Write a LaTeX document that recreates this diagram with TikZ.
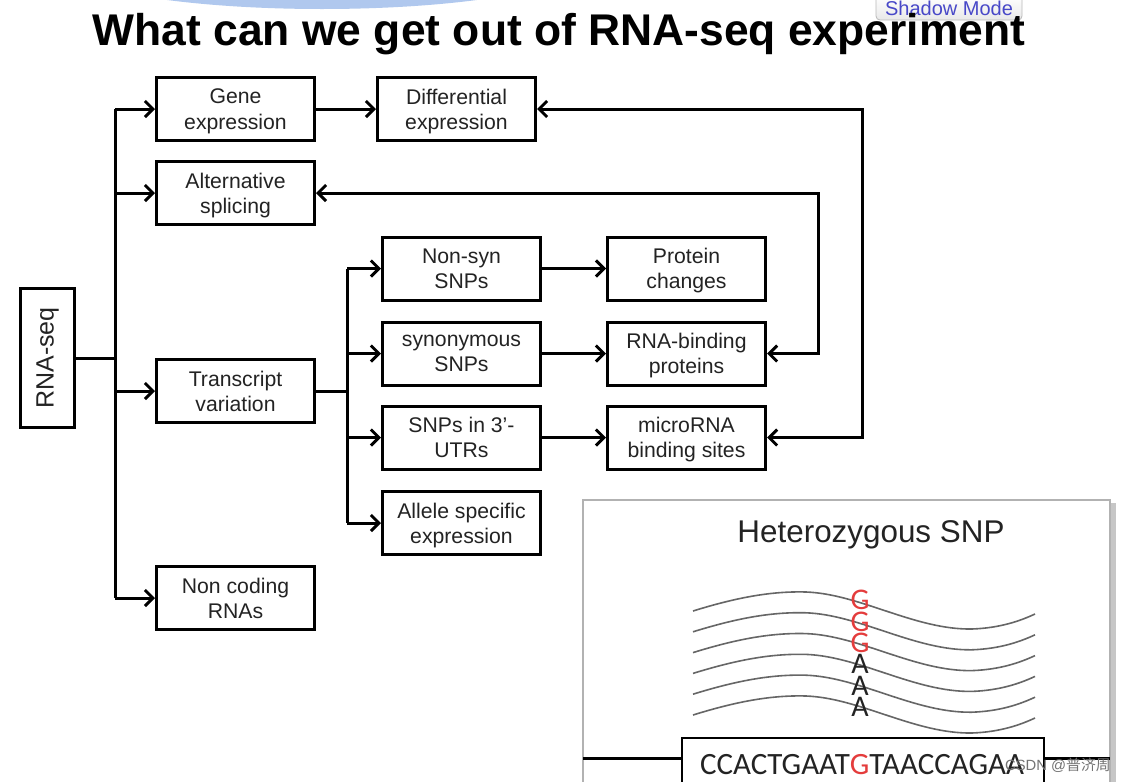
\documentclass[tikz,border=0pt]{standalone}
\usepackage{fontspec}
\setmainfont{Liberation Sans}
\newfontfamily\calib{Carlito}
\newfontfamily\cjk{Noto Sans CJK SC}
\usetikzlibrary{arrows.meta}
\definecolor{snpred}{RGB}{228,60,60}
\definecolor{btnblue}{RGB}{72,72,200}
\definecolor{topblue}{RGB}{176,200,238}
\definecolor{inkgray}{RGB}{35,35,35}
\begin{document}
\begin{tikzpicture}[x=0.5pt,y=-0.5pt,
  box/.style={draw=black, line width=1.5pt, fill=white, minimum width=79pt,
    minimum height=31.5pt, inner sep=0pt, align=center, text=inkgray,
    text depth=0pt, font=\fontsize{10.6}{12.6}\selectfont},
  link/.style={line width=1.5pt},
  arr/.style={link, -{Straight Barb[length=4pt,width=8pt]}},
  barr/.style={link, {Straight Barb[length=4pt,width=8pt]}-{Straight Barb[length=4pt,width=8pt]}},
  wave/.style={draw=black!60, line width=0.8pt},
  base/.style={font=\calib\fontsize{15}{15}\selectfont, inner sep=0pt}
]
\clip (0,0) rectangle (1126,782);
\fill[white] (0,0) rectangle (1126,782);

% slide decoration and toolbar button
\fill[topblue] (322,-40) ellipse [x radius=268, y radius=49];
\node[draw=gray!55, rounded corners=2pt, top color=white, bottom color=gray!18,
  minimum width=73pt, minimum height=12pt, inner sep=0pt, text=btnblue,
  font=\fontsize{10}{10}\selectfont] (btn) at (949,8) {Shadow Mode};

% title
\node[font=\bfseries\fontsize{22.2}{24}\selectfont, inner sep=0pt, anchor=base] (title) at (559,45)
  {What can we get out of RNA-seq experiment};

% boxes
\node[box, minimum width=27pt, minimum height=69.5pt] (rna) at (47.5,358) {};
\node[rotate=90, font=\fontsize{12.5}{13}\selectfont, text=inkgray] (rnalbl) at (rna.center) {RNA-seq};
\node[box] (gene) at (235.5,109) {Gene\\expression};
\node[box] (diff) at (456.5,109) {Differential\\expression};
\node[box] (alt)  at (235.5,193) {Alternative\\splicing};
\node[box] (tv)   at (235.5,391) {Transcript\\variation};
\node[box] (nc)   at (235.5,598) {Non coding\\RNAs};
\node[box] (nonsyn) at (461.5,268.5) {Non-syn\\SNPs};
\node[box] (syn)    at (461.5,353.5) {synonymous\\SNPs};
\node[box] (utr)    at (461.5,437.5) {SNPs in 3’-\\UTRs};
\node[box] (ase)    at (461.5,523) {Allele specific\\expression};
\node[box] (prot)   at (686.5,268.5) {Protein\\changes};
\node[box] (rbp)    at (686.5,353.5) {RNA-binding\\proteins};
\node[box] (mir)    at (686.5,437.5) {microRNA\\binding sites};

% first fan-out from RNA-seq
\coordinate (j1) at (115,358);
\draw[link] (rna.east) -- (j1);
\draw[link] (j1 |- gene.west) -- (j1 |- nc.west);
\draw[arr] (j1 |- gene.west) -- (gene.west);
\draw[arr] (j1 |- alt.west) -- (alt.west);
\draw[arr] (j1 |- tv.west) -- (tv.west);
\draw[arr] (j1 |- nc.west) -- (nc.west);

% second fan-out from transcript variation
\coordinate (j2) at (347,391);
\draw[link] (tv.east) -- (j2);
\draw[link] (j2 |- nonsyn.west) -- (j2 |- ase.west);
\draw[arr] (j2 |- nonsyn.west) -- (nonsyn.west);
\draw[arr] (j2 |- syn.west) -- (syn.west);
\draw[arr] (j2 |- utr.west) -- (utr.west);
\draw[arr] (j2 |- ase.west) -- (ase.west);

% consequences
\draw[arr] (gene.east) -- (diff.west);
\draw[arr] (nonsyn.east) -- (prot.west);
\draw[arr] (syn.east) -- (rbp.west);
\draw[arr] (utr.east) -- (mir.west);

% feedback loops
\coordinate (f1) at (818,0);
\coordinate (f2) at (862,0);
\draw[barr] (alt.east) -| (f1 |- rbp.east) -- (rbp.east);
\draw[barr] (diff.east) -| (f2 |- mir.east) -- (mir.east);

% heterozygous SNP panel
\fill[gray!45] (587,503) rectangle (1116,790);
\draw[gray!60, line width=1pt, fill=white] (583,500) rectangle (1110,790);
\node[font=\fontsize{15.7}{17}\selectfont, text=inkgray, inner sep=0pt, anchor=base] (snpt) at (871,542) {Heterozygous SNP};

\foreach \i in {0,...,5}{
  \begin{scope}[shift={(0,\i*20.8)}]
    \draw[wave] (693,611) .. controls (735,598) and (770,591) .. (806,592)
      .. controls (860,594) and (915,630) .. (972,629)
      .. controls (1000,628) and (1020,621) .. (1035,614);
  \end{scope}
}
\node[base, text=snpred] (g1) at (860,600) {G};
\node[base, text=snpred] (g2) at (860,622) {G};
\node[base, text=snpred] (g3) at (860,643) {G};
\node[base, text=inkgray] (a1) at (860,664) {A};
\node[base, text=inkgray] (a2) at (860,686) {A};
\node[base, text=inkgray] (a3) at (860,707) {A};

\node[draw=black, line width=1.2pt, fill=white, minimum width=181pt, minimum height=36pt,
  inner sep=0pt] (seqbox) at (863,774) {};
\draw[link] (583,758) -- (seqbox.west |- 0,758);
\draw[link] (seqbox.east |- 0,758) -- (1110,758);
\node[font=\calib\fontsize{15.5}{16}\selectfont, text=inkgray, inner sep=0pt] (seq) at (862,765)
  {CCACTGAAT\textcolor{snpred}{G}TAACCAGAA};

\node[anchor=east, font=\fontsize{7.4}{8}\selectfont, text=black!55, inner sep=0pt] (wm) at (1111,765)
  {CSDN @{\cjk 普济周}};
\end{tikzpicture}
\end{document}
